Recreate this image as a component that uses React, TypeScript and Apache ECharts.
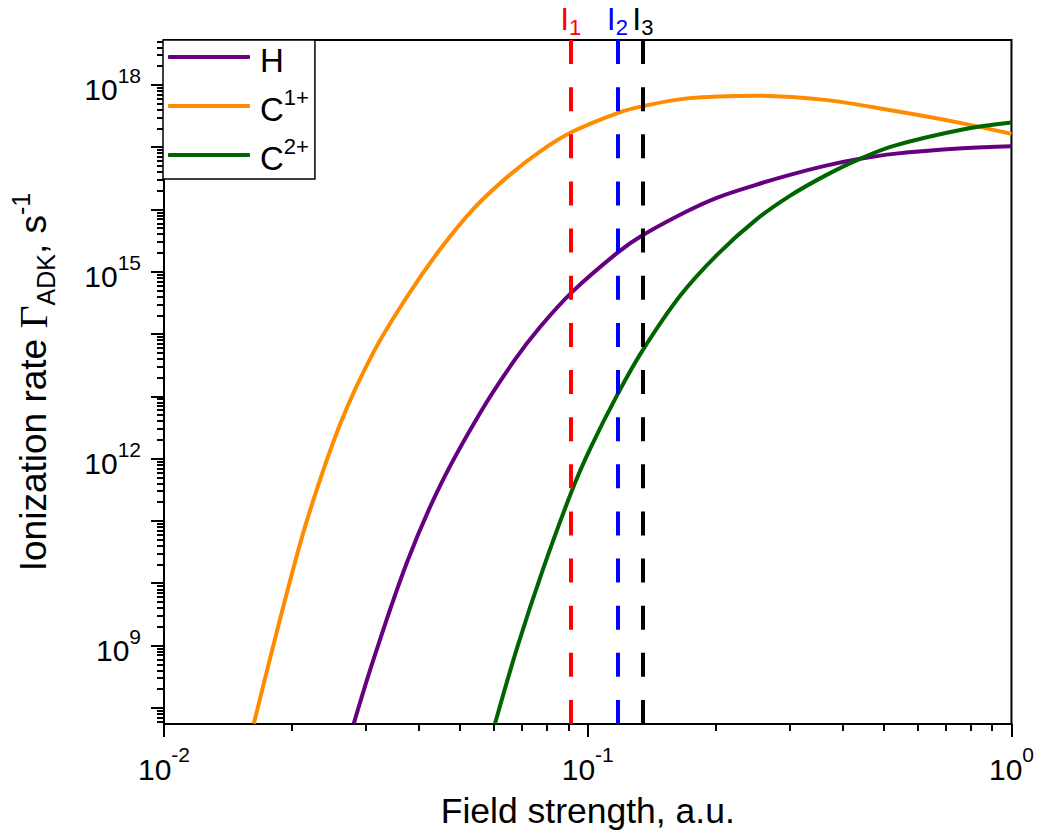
import React, { useEffect, useRef } from 'react';
import * as echarts from 'echarts';

// Field strength (a.u.) and log10 of the ADK ionization rate (s^-1)
const fieldH = [0.02803, 0.03125, 0.03757, 0.04493, 0.05581, 0.06712, 0.07727, 0.09193, 0.1174, 0.1344, 0.1715, 0.203, 0.2494, 0.2999, 0.3626, 0.4361, 0.5273, 0.7668, 1.0];
const logRateH = [7.743, 8.787, 10.36, 11.58, 12.742, 13.576, 14.116, 14.677, 15.303, 15.581, 15.97, 16.194, 16.395, 16.555, 16.7, 16.809, 16.892, 16.981, 17.014];

const fieldC1 = [0.01629, 0.01928, 0.02184, 0.02612, 0.03125, 0.03757, 0.04493, 0.05373, 0.06462, 0.07727, 0.09193, 0.118, 0.1344, 0.1715, 0.2494, 0.3626, 0.5273, 0.7668, 1.0];
const logRateC1 = [7.743, 9.718, 11.05, 12.575, 13.714, 14.613, 15.368, 16.01, 16.523, 16.933, 17.246, 17.551, 17.655, 17.783, 17.827, 17.759, 17.583, 17.382, 17.213];

const fieldC2 = [0.0604, 0.06823, 0.07855, 0.09193, 0.1014, 0.1174, 0.1344, 0.1652, 0.203, 0.2494, 0.2999, 0.3626, 0.4361, 0.5273, 0.7668, 1.0];
const logRateC2 = [7.743, 8.979, 10.239, 11.499, 12.165, 13.024, 13.726, 14.613, 15.287, 15.833, 16.218, 16.539, 16.804, 17.021, 17.284, 17.395];

const seriesNames = ['H', 'C1+', 'C2+'];
const seriesColors = ['#660080', '#ff8c00', '#006400'];

// Vertical markers I1, I2, I3
const ionFields = [0.0921, 0.1174, 0.1344];
const ionIndex = ['1', '2', '3'];
const ionColors = ['#ff0000', '#0000ff', '#000000'];

// Axis ranges (log10)
const X_MIN = -2;
const X_MAX = 0;
const Y_MIN = 7.74;
const Y_MAX = 18.72;
const xMajor = [-2, -1, 0];
const yMajor = [8, 9, 10, 11, 12, 13, 14, 15, 16, 17, 18];
const yLabelled = [9, 12, 15, 18];

const xMinor: number[] = [];
for (let d = -2; d < 0; d++) for (let k = 2; k <= 9; k++) xMinor.push(d + Math.log10(k));
const yMinor: number[] = [];
for (let d = 7; d <= 18; d++)
  for (let k = 2; k <= 9; k++) {
    const v = d + Math.log10(k);
    if (v > Y_MIN && v < Y_MAX) yMinor.push(v);
  }

const FONT = '"Liberation Sans", Arial, Helvetica, sans-serif';
const SERIF = '"Liberation Serif", "Times New Roman", serif';

const pairs = (xs: number[], ys: number[]) => xs.map((x, i) => [Math.log10(x), ys[i]]);

const tickRich = {
  b: { fontSize: 30, lineHeight: 40, verticalAlign: 'bottom', fontFamily: FONT, color: '#000' },
  s: { fontSize: 21, lineHeight: 21, verticalAlign: 'top', fontFamily: FONT, color: '#000' },
};
const powLabel = (v: number) => `{b|10}{s|${Math.round(v)}}`;

export default function App() {
  const ref = useRef<HTMLDivElement>(null);
  useEffect(() => {
    if (!ref.current) return;
    const chart = echarts.init(ref.current, null, { renderer: 'svg' });
    const axisLineStyle = { color: '#000', width: 2 };
    const option: any = {
      animation: false,
      backgroundColor: '#fff',
      grid: {
        left: 163, right: 25, top: 40, bottom: 114,
        show: true, borderColor: '#000', borderWidth: 2, backgroundColor: 'transparent',
      },
      legend: {
        data: seriesNames,
        orient: 'vertical',
        left: 163, top: 40,
        icon: 'roundRect',
        itemWidth: 82, itemHeight: 4, itemGap: 9,
        padding: [4, 6, 4, 5],
        borderColor: '#000', borderWidth: 1.5, backgroundColor: '#fff',
        selectedMode: false,
        formatter: (name: string) => (name === 'H' ? '{m|H}' : `{m|C}{p|${name.slice(1)}}`),
        textStyle: {
          fontFamily: FONT, color: '#000', padding: [0, 0, 0, 5],
          rich: {
            m: { fontSize: 33, lineHeight: 40, verticalAlign: 'bottom', fontFamily: FONT, color: '#000' },
            p: { fontSize: 22, lineHeight: 22, verticalAlign: 'top', fontFamily: FONT, color: '#000' },
          },
        },
      },
      xAxis: [
        {
          type: 'value', min: X_MIN, max: X_MAX, position: 'bottom',
          axisLine: { show: true, onZero: false, lineStyle: axisLineStyle },
          axisTick: { show: true, customValues: xMajor, length: 13, lineStyle: axisLineStyle },
          axisLabel: { customValues: xMajor, margin: 20, formatter: powLabel, rich: tickRich },
          splitLine: { show: false },
          name: 'Field strength, a.u.', nameLocation: 'middle', nameGap: 69,
          nameTextStyle: { fontSize: 35.5, fontFamily: FONT, color: '#000' },
        },
        {
          type: 'value', min: X_MIN, max: X_MAX, position: 'bottom',
          axisLine: { show: false, onZero: false },
          axisTick: { show: true, customValues: xMinor, length: 7, lineStyle: axisLineStyle },
          axisLabel: { show: false },
          splitLine: { show: false },
        },
      ],
      yAxis: [
        {
          type: 'value', min: Y_MIN, max: Y_MAX, position: 'left',
          axisLine: { show: true, onZero: false, lineStyle: axisLineStyle },
          axisTick: { show: true, customValues: yMajor, length: 13, lineStyle: axisLineStyle },
          axisLabel: { customValues: yLabelled, margin: 23, formatter: powLabel, rich: tickRich },
          splitLine: { show: false },
          name: '{t|Ionization rate }{g|Γ}{sub|ADK}{t|, s}{sup|-1}',
          nameLocation: 'middle', nameGap: 106,
          nameTextStyle: {
            color: '#000', fontFamily: FONT,
            rich: {
              t: { fontSize: 37, lineHeight: 50, verticalAlign: 'middle', fontFamily: FONT, color: '#000' },
              g: { fontSize: 40, lineHeight: 50, verticalAlign: 'middle', fontFamily: SERIF, color: '#000' },
              sub: { fontSize: 25, lineHeight: 22, verticalAlign: 'bottom', fontFamily: FONT, color: '#000' },
              sup: { fontSize: 25, lineHeight: 46, verticalAlign: 'top', fontFamily: FONT, color: '#000' },
            },
          },
        },
        {
          type: 'value', min: Y_MIN, max: Y_MAX, position: 'left',
          axisLine: { show: false, onZero: false },
          axisTick: { show: true, customValues: yMinor, length: 7, lineStyle: axisLineStyle },
          axisLabel: { show: false },
          splitLine: { show: false },
        },
      ],
      series: [
        ...[pairs(fieldH, logRateH), pairs(fieldC1, logRateC1), pairs(fieldC2, logRateC2)].map((d, i) => ({
          name: seriesNames[i], type: 'line', xAxisIndex: 0, yAxisIndex: 0,
          data: d, symbol: 'none', showSymbol: false, smooth: 0.35,
          lineStyle: { color: seriesColors[i], width: 4 },
          itemStyle: { color: seriesColors[i] },
          z: 3,
        })),
        {
          name: 'markers', type: 'line', xAxisIndex: 0, yAxisIndex: 0, data: [], z: 5,
          markLine: {
            silent: true, symbol: ['none', 'none'], animation: false,
            data: ionFields.map((f, i) => ({
              xAxis: Math.log10(f),
              lineStyle: { color: ionColors[i], width: 4, type: [24, 23.14], cap: 'butt' },
              label: {
                show: true, position: 'end', distance: 5,
                formatter: `{i|I}{s|${ionIndex[i]}}`,
                rich: {
                  i: { fontSize: 32, lineHeight: 32, verticalAlign: 'top', fontFamily: FONT, color: ionColors[i] },
                  s: { fontSize: 22, lineHeight: 22, padding: [13, 0, 0, 0], verticalAlign: 'top', fontFamily: FONT, color: ionColors[i] },
                },
              },
            })),
          },
        },
      ],
    };
    chart.setOption(option);
    return () => chart.dispose();
  }, []);
  return <div ref={ref} style={{ position: 'fixed', left: 0, top: 0, width: 1037, height: 838 }} />;
}
